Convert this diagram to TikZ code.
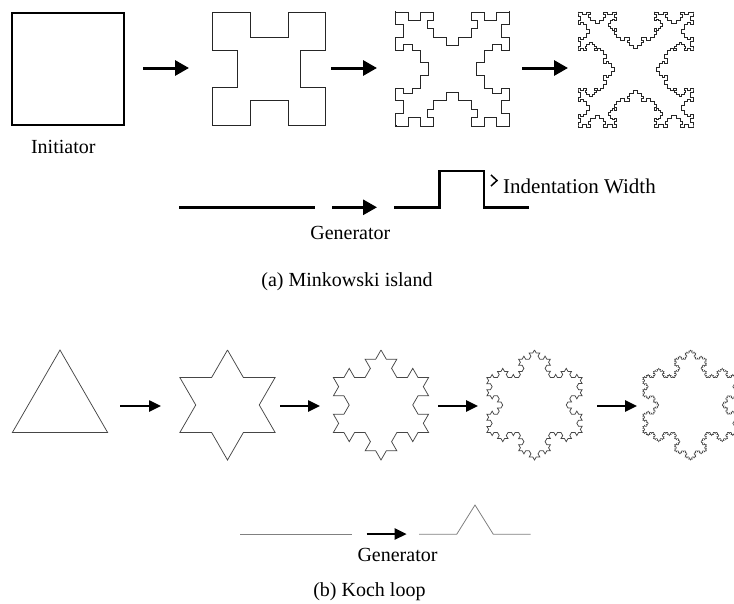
\documentclass[tikz,border=0pt]{standalone}
\usepackage{fontspec}
\setmainfont{Liberation Serif}
\usetikzlibrary{arrows.meta,decorations.fractals}
\definecolor{kg}{RGB}{70, 70, 70}
\definecolor{gl}{RGB}{128, 128, 128}

% one segment -> flat, notch of depth .22, flat (notch on the left)
\pgfdeclaredecoration{square notch}{draw}
{
  \state{draw}[width=\pgfdecoratedinputsegmentremainingdistance]
  {
    \pgfpathlineto{\pgfpoint{0pt}{0pt}}
    \pgfpathlineto{\pgfpoint{.333333\pgfdecoratedinputsegmentremainingdistance}{0pt}}
    \pgfpathlineto{\pgfpoint{.333333\pgfdecoratedinputsegmentremainingdistance}{.22\pgfdecoratedinputsegmentremainingdistance}}
    \pgfpathlineto{\pgfpoint{.666666\pgfdecoratedinputsegmentremainingdistance}{.22\pgfdecoratedinputsegmentremainingdistance}}
    \pgfpathlineto{\pgfpoint{.666666\pgfdecoratedinputsegmentremainingdistance}{0pt}}
    \pgfpathlineto{\pgfpoint{\pgfdecoratedinputsegmentremainingdistance}{0pt}}
  }
}

\begin{document}
\begin{tikzpicture}[
  every node/.style={inner sep=0pt, font=\fontsize{20pt}{24pt}\selectfont},
  mink/.style={line width=1pt, draw=black!85, decoration=square notch},
  koch/.style={line width=0.75pt, draw=kg, decoration=Koch snowflake},
  fatarrow/.style={line width=3pt, -{Triangle[length=14pt,width=15pt]}},
  thinarrow/.style={line width=2.5pt, -{Triangle[length=12pt,width=11pt]}}]
\useasboundingbox (0pt,0pt) rectangle (734pt,-603pt);
\clip (0pt,0pt) rectangle (734pt,-603pt);

% Minkowski island (each square runs 2pt past its start, so rounding
% never eats the last side)
\coordinate (m0) at (68.2pt,-69.2pt);
\coordinate (m1) at (269.2pt,-69pt);
\coordinate (m2) at (452.5pt,-69pt);
\coordinate (m3) at (635.5pt,-69.5pt);
\draw [line width=1.6pt, shift={(m0)}] (-56pt,-56pt) rectangle (56pt,56pt);
\draw [mink, shift={(m1)}] decorate{(-56.5pt,-56.5pt) -- (56.5pt,-56.5pt) -- (56.5pt,56.5pt) -- (-56.5pt,56.5pt) -- (-56.5pt,-56.5pt) -- (-54.5pt,-56.5pt)};
\draw [mink, shift={(m2)}] decorate{decorate{(-57pt,-57pt) -- (57pt,-57pt) -- (57pt,57pt) -- (-57pt,57pt) -- (-57pt,-57pt) -- (-55pt,-57pt)}};
\draw [mink, line width=0.9pt, shift={(m3)}] decorate{decorate{decorate{(-57.5pt,-57.5pt) -- (57.5pt,-57.5pt) -- (57.5pt,57.5pt) -- (-57.5pt,57.5pt) -- (-57.5pt,-57.5pt) -- (-55.5pt,-57.5pt)}}};
\foreach \xs/\xe [count=\i] in {143/189, 331/377, 522/568} {
  \coordinate (as\i) at (\xs pt,-68pt);
  \coordinate (ae\i) at (\xe pt,-68pt);
  \draw [fatarrow] (as\i) -- (ae\i);
}
\node (init) at (63.3pt,-146.7pt) {Initiator};

% its generator
\draw [line width=2.5pt] (179.3pt,-207.3pt) -- (315pt,-207.3pt);
\coordinate (gs) at (332pt,-207.3pt);
\coordinate (ge) at (377pt,-207.3pt);
\draw [fatarrow] (gs) -- (ge);
\draw [line width=2.5pt] (394.3pt,-207.3pt) -- (439.3pt,-207.3pt) -- (439.3pt,-171pt)
  -- (484pt,-171pt) -- (484pt,-207.3pt) -- (529.3pt,-207.3pt);
\draw [line width=1.5pt] (491pt,-175pt) -- (497pt,-180.5pt) -- (491pt,-186pt);
\node (iw) [anchor=base west, font=\fontsize{21pt}{25pt}\selectfont] at (503pt,-193.3pt) {Indentation Width};
\node (gena) at (350.3pt,-233pt) {Generator};
\node (capa) [anchor=base] at (347pt,-286pt) {(a) Minkowski island};

% Koch loop
\coordinate (k0) at (60pt,-405pt);
\coordinate (k1) at (227.5pt,-405pt);
\coordinate (k2) at (381pt,-405pt);
\coordinate (k3) at (534.5pt,-405pt);
\coordinate (k4) at (690.5pt,-405pt);
\draw [koch, shift={(k0)}] (90:55pt) -- (-30:55pt) -- (210:55pt) -- cycle;
\draw [koch, shift={(k1)}] decorate{(90:55pt) -- (-30:55pt) -- (210:55pt) -- (90:55pt)};
\draw [koch, shift={(k2)}] decorate{decorate{(90:55pt) -- (-30:55pt) -- (210:55pt) -- (90:55pt)}};
\draw [koch, shift={(k3)}] decorate{decorate{decorate{(90:55pt) -- (-30:55pt) -- (210:55pt) -- (90:55pt)}}};
\draw [koch, line width=0.6pt, shift={(k4)}] decorate{decorate{decorate{decorate{(90:55pt) -- (-30:55pt) -- (210:55pt) -- (90:55pt)}}}};
\foreach \xs/\xe [count=\i] in {120/161, 280/320, 438/478, 597/637} {
  \coordinate (bs\i) at (\xs pt,-406pt);
  \coordinate (be\i) at (\xe pt,-406pt);
  \draw [thinarrow] (bs\i) -- (be\i);
}

% its generator
\draw [line width=0.8pt, gl] (240pt,-534.3pt) -- (351.7pt,-534.3pt);
\coordinate (hs) at (366.7pt,-534pt);
\coordinate (he) at (406.7pt,-534pt);
\draw [thinarrow] (hs) -- (he);
\draw [line width=0.8pt, gl] (419pt,-534.3pt) -- (456.7pt,-534.3pt) -- (475pt,-505pt)
  -- (493.3pt,-534.3pt) -- (530.7pt,-534.3pt);
\node (genb) at (397.5pt,-554.7pt) {Generator};
\node (capb) [anchor=base] at (369.4pt,-596pt) {(b) Koch loop};
\end{tikzpicture}
\end{document}
